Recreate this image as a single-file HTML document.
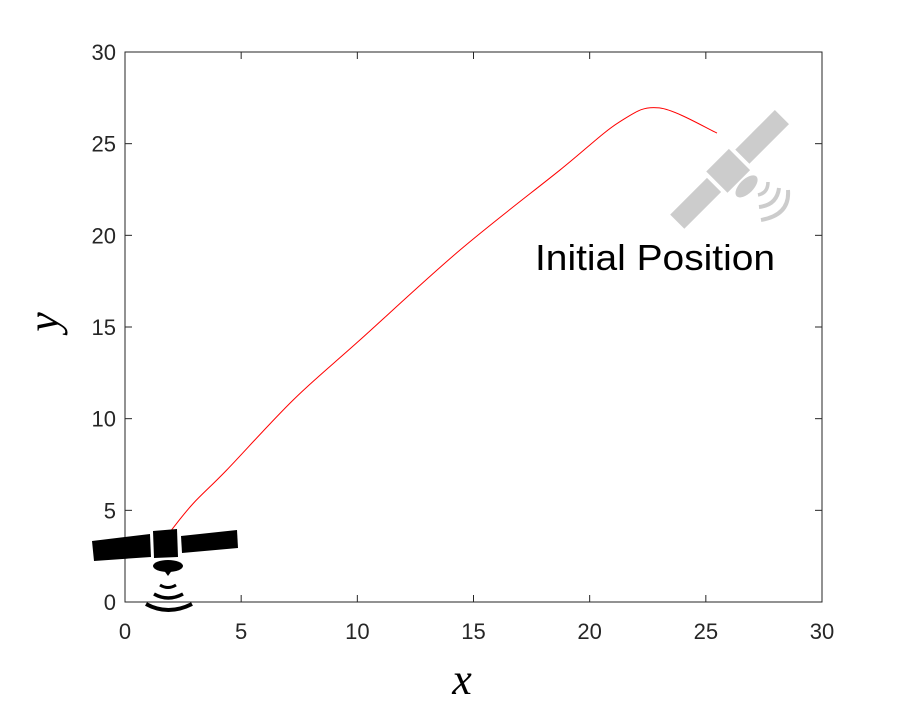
<!DOCTYPE html>
<html><head><meta charset="utf-8"><style>
body{margin:0;background:#fff;}
svg text{font-family:"Liberation Sans",sans-serif;fill:#262626;}
</style></head><body>
<svg id="chart" width="906" height="704" viewBox="0 0 906 704">
<rect x="0" y="0" width="906" height="704" fill="#fff"/>
<rect x="125" y="52" width="697" height="550" fill="none" stroke="#262626" stroke-width="1"/>
<g id="ticks"></g>
<path id="traj" fill="none" stroke="#ff0000" stroke-width="1"/>
<g fill="#000">
  <polygon points="92,541 150,534 151,557 94,561"/>
  <polygon points="153,531 177,529 178,557 154,558"/>
  <polygon points="181,536 237,530 238,548 182,553"/>
  <ellipse cx="168" cy="566" rx="15" ry="6"/>
  <polygon points="163,569 173,569 168,576"/>
  <path d="M160,585 Q168,590 176,585" stroke="#000" stroke-width="3" fill="none"/>
  <path d="M154,594 Q168,602 183,594" stroke="#000" stroke-width="3.5" fill="none"/>
  <path d="M146,604 Q168,616 192,604" stroke="#000" stroke-width="4" fill="none"/>
</g>
<g fill="#cccccc" transform="translate(731,168) rotate(-45)">
  <rect x="-76" y="-10" width="52" height="20"/>
  <rect x="-20" y="-15" width="32" height="30"/>
  <rect x="16" y="-10" width="56" height="20"/>
  <ellipse cx="-2" cy="24" rx="14" ry="7"/>
</g>
<g fill="none" stroke="#cccccc">
  <path d="M758,195 Q768,193 768,182" stroke-width="3.5"/>
  <path d="M759,207 Q777,205 779,188" stroke-width="4"/>
  <path d="M761,220 Q790,215 788,190" stroke-width="4"/>
</g>
<text x="535" y="270" font-size="36" textLength="240" lengthAdjust="spacingAndGlyphs" style="fill:#000">Initial Position</text>
<text x="462" y="694" font-size="44" font-style="italic" style="font-family:'Liberation Serif',serif;fill:#000" text-anchor="middle">x</text>
<text x="0" y="0" font-size="44" font-style="italic" style="font-family:'Liberation Serif',serif;fill:#000" text-anchor="middle" transform="translate(58,322) rotate(-90)">y</text>
</svg>
<script>
const xTicks=[0,5,10,15,20,25,30];
const yTicks=[0,5,10,15,20,25,30];
const trajX=[2,2.94,4.38,7.24,10.11,14.42,18.72,21.3,23,25.48];
const trajY=[3.93,5.38,7.2,11.02,14.29,19.2,23.56,26.2,26.95,25.58];
const sx=v=>125+v*(697/30);
const sy=v=>602-v*(550/30);
const NS="http://www.w3.org/2000/svg";
const g=document.getElementById('ticks');
xTicks.forEach(t=>{
  const l=document.createElementNS(NS,'line');
  l.setAttribute('x1',sx(t));l.setAttribute('x2',sx(t));l.setAttribute('y1',602);l.setAttribute('y2',595);
  l.setAttribute('stroke','#262626');
  
  
  g.appendChild(l);
  const l2=document.createElementNS(NS,'line');
  l2.setAttribute('x1',sx(t));l2.setAttribute('x2',sx(t));l2.setAttribute('y1',52);l2.setAttribute('y2',59);
  l2.setAttribute('stroke','#262626');
  
  
  g.appendChild(l2);
  const tx=document.createElementNS(NS,'text');
  tx.setAttribute('x',sx(t));tx.setAttribute('y',639);tx.setAttribute('text-anchor','middle');tx.setAttribute('font-size','22');
  tx.textContent=t;
  
  
  g.appendChild(tx);
});
yTicks.forEach(t=>{
  const l=document.createElementNS(NS,'line');
  l.setAttribute('x1',125);l.setAttribute('x2',132);l.setAttribute('y1',sy(t));l.setAttribute('y2',sy(t));
  l.setAttribute('stroke','#262626');
  
  
  g.appendChild(l);
  const l2=document.createElementNS(NS,'line');
  l2.setAttribute('x1',815);l2.setAttribute('x2',822);l2.setAttribute('y1',sy(t));l2.setAttribute('y2',sy(t));
  l2.setAttribute('stroke','#262626');
  
  
  g.appendChild(l2);
  const tx=document.createElementNS(NS,'text');
  tx.setAttribute('x',116);tx.setAttribute('y',sy(t)+8);tx.setAttribute('text-anchor','end');tx.setAttribute('font-size','22');
  tx.textContent=t;
  
  
  g.appendChild(tx);
});
const P=trajX.map((x,i)=>[sx(x),sy(trajY[i])]);
let d='M'+P[0][0]+','+P[0][1];
for(let i=0;i<P.length-1;i++){
  const p0=P[Math.max(0,i-1)],p1=P[i],p2=P[i+1],p3=P[Math.min(P.length-1,i+2)];
  const c1=[p1[0]+(p2[0]-p0[0])/6,p1[1]+(p2[1]-p0[1])/6];
  const c2=[p2[0]-(p3[0]-p1[0])/6,p2[1]-(p3[1]-p1[1])/6];
  d+=` C${c1[0]},${c1[1]} ${c2[0]},${c2[1]} ${p2[0]},${p2[1]}`;
}
document.getElementById('traj').setAttribute('d',d);
</script>
</body></html>
